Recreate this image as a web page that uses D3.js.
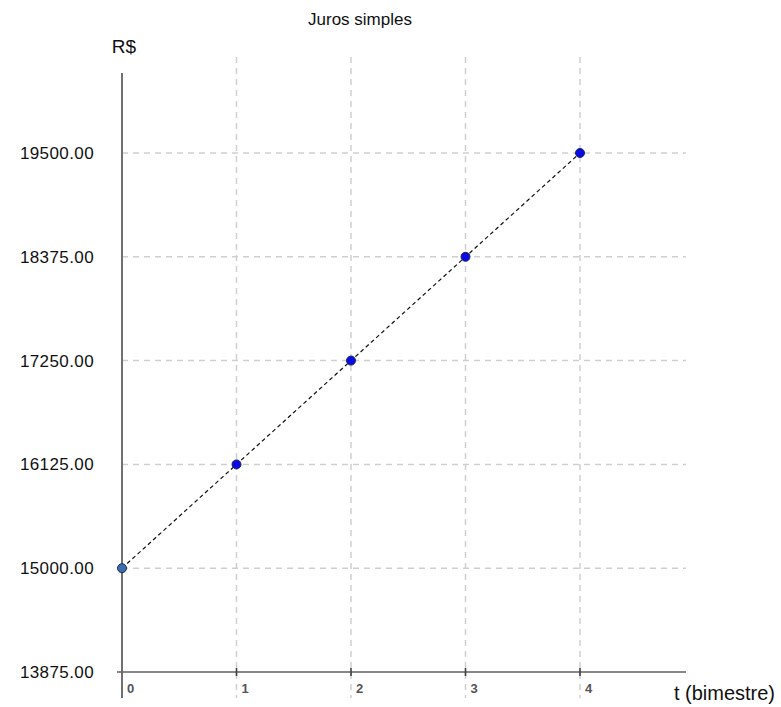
<!DOCTYPE html>
<html>
<head>
<meta charset="utf-8">
<script src="https://cdn.jsdelivr.net/npm/d3@7"></script>
<style>
  body { margin: 0; background: #fff; }
  svg { display: block; font-family: "Liberation Sans", Arial, sans-serif; }
</style>
</head>
<body>
<div id="chart"></div>
<script>
const periods = [0, 1, 2, 3, 4];
const amounts = [15000, 16125, 17250, 18375, 19500];
const yTicks = [13875, 15000, 16125, 17250, 18375, 19500];
const pointColors = ["#3d6fb0", "#0a0ae6", "#0a0ae6", "#0a0ae6", "#0a0ae6"];

const width = 781, height = 707;

const svg = d3.select("#chart").append("svg")
    .attr("width", width)
    .attr("height", height);

// axes scales (origin at 0 / 13875)
const x = d3.scaleLinear().domain([0, 4]).range([122, 580]);
const y = d3.scaleLinear().domain([13875, 19500]).range([672, 153]);

const gridColor = "#cfcfcf";

// vertical gridlines
svg.append("g").selectAll("line")
    .data(periods.slice(1))
    .enter().append("line")
    .attr("x1", d => x(d)).attr("x2", d => x(d))
    .attr("y1", 57).attr("y2", 698)
    .attr("stroke", gridColor)
    .attr("stroke-width", 1.5)
    .attr("stroke-dasharray", "6,5");

// horizontal gridlines
svg.append("g").selectAll("line")
    .data(yTicks.slice(1))
    .enter().append("line")
    .attr("x1", x(0)).attr("x2", 686)
    .attr("y1", d => y(d)).attr("y2", d => y(d))
    .attr("stroke", gridColor)
    .attr("stroke-width", 1.5)
    .attr("stroke-dasharray", "6,5");

// y axis line
svg.append("line")
    .attr("x1", x(0)).attr("x2", x(0))
    .attr("y1", 73).attr("y2", 698)
    .attr("stroke", "#707070")
    .attr("stroke-width", 2);

// x axis line
svg.append("line")
    .attr("x1", 117).attr("x2", 686)
    .attr("y1", y(13875)).attr("y2", y(13875))
    .attr("stroke", "#606060")
    .attr("stroke-width", 1.6);

// x ticks
svg.append("g").selectAll("line")
    .data(periods.slice(1))
    .enter().append("line")
    .attr("x1", d => x(d)).attr("x2", d => x(d))
    .attr("y1", y(13875) - 4).attr("y2", y(13875) + 4)
    .attr("stroke", "#404040")
    .attr("stroke-width", 1.6);

// x tick labels
svg.append("g").selectAll("text")
    .data(periods)
    .enter().append("text")
    .attr("x", d => x(d) + 5)
    .attr("y", 693)
    .attr("font-size", 13)
    .attr("font-weight", "bold")
    .attr("fill", "#555")
    .text(d => d);

// y tick labels
svg.append("g").selectAll("text")
    .data(yTicks)
    .enter().append("text")
    .attr("x", 94)
    .attr("y", d => y(d) + 6)
    .attr("text-anchor", "end")
    .attr("font-size", 17)
    .attr("letter-spacing", 0.4)
    .attr("fill", "#111")
    .text(d => d3.format(".2f")(d));

// dashed line through the points
const line = d3.line()
    .x((d, i) => x(periods[i]))
    .y(d => y(d));

svg.append("path")
    .datum(amounts)
    .attr("d", line)
    .attr("fill", "none")
    .attr("stroke", "#111")
    .attr("stroke-width", 1.2)
    .attr("stroke-dasharray", "4,3");

// points
svg.append("g").selectAll("circle")
    .data(amounts)
    .enter().append("circle")
    .attr("cx", (d, i) => x(periods[i]))
    .attr("cy", d => y(d))
    .attr("r", 4.5)
    .attr("fill", (d, i) => pointColors[i])
    .attr("stroke", "#1a2a55")
    .attr("stroke-width", 1);

// title and axis labels
svg.append("text")
    .attr("x", 360).attr("y", 25)
    .attr("text-anchor", "middle")
    .attr("font-size", 17)
    .attr("fill", "#111")
    .text("Juros simples");

svg.append("text")
    .attr("x", 124).attr("y", 53)
    .attr("text-anchor", "middle")
    .attr("font-size", 19)
    .attr("fill", "#111")
    .text("R$");

svg.append("text")
    .attr("x", 775).attr("y", 700)
    .attr("text-anchor", "end")
    .attr("font-size", 20)
    .attr("fill", "#111")
    .text("t (bimestre)");
</script>
</body>
</html>
